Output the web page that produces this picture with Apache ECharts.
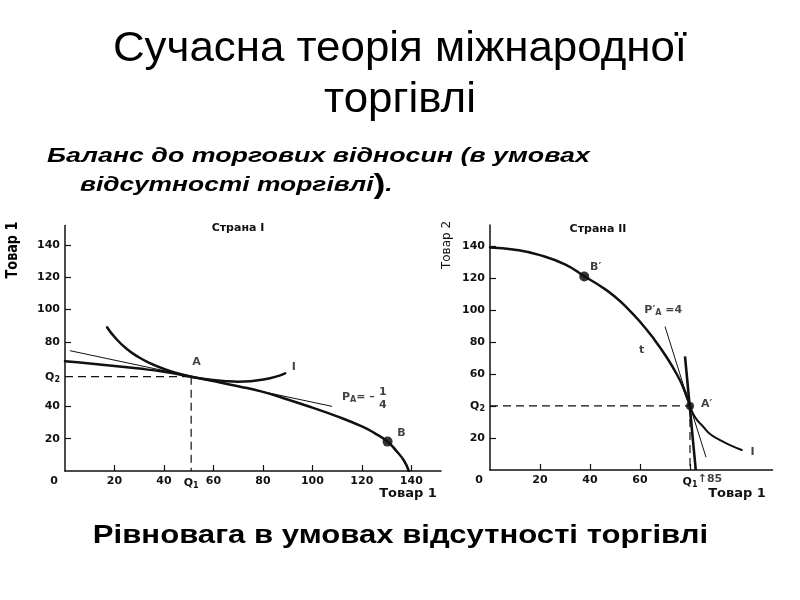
<!DOCTYPE html>
<html><head><meta charset="utf-8">
<script src="https://cdn.jsdelivr.net/npm/echarts@6/dist/echarts.min.js"></script>
<style>html,body{margin:0;padding:0;background:#fff}#c{width:800px;height:600px}</style>
</head><body><div id="c"></div>
<script>
// ---------- Country I (Страна I) ----------
const ppf1 = [[0,68],[10,66.6],[20,65],[30,63.4],[40,61.4],[51,58.4],[60,55.7],[70,52.5],[80,49],[90,44.3],[100,39.2],[110,33.8],[120,27.6],[125,23.6],[130.4,18.2],[134,12.3],[137,6.5],[139,0]];
const indiff1 = [[17,89],[20,83],[25,75.5],[30,70.3],[35,66.3],[40,63.2],[45,60.7],[51,58.4],[55,57.3],[60,56.3],[65,55.6],[70,55.3],[75,55.6],[80,56.6],[85,58.3],[89,60.5]];
const price1 = [[2,74.5],[108,40]];
const pointA = [51,58.4];
const pointB = [130.4,18.2];
const xTicks1 = [20,40,60,80,100,120,140];
const xLabels1 = [0,20,40,51,60,80,100,120,140];
const yTicks1 = [20,40,58.4,80,100,120,140];
const notes1 = [[53.2,67.7,'A'],[136,23.3,'B'],[92.5,64.6,'I'],[128.5,48.6,'1'],[128.5,40.6,'4']];
const priceNote1 = [112,45.8];

// ---------- Country II (Страна II) ----------
const ppf2 = [[0,139],[10,137.6],[20,134.2],[30,128.4],[37.7,121],[45,114],[50,108.2],[55,101],[60,92.6],[65,83],[70,72],[75,59],[78,49],[80,40]];
const ppf2Steep = [[78,71],[82.3,0]];
const indiff2 = [[77,53],[80,40],[82,33],[85.3,27],[88,22.5],[92,18.7],[96,15.5],[100.7,12.5]];
const price2 = [[70,89.6],[86.4,8]];
const pointA2 = [80,40];
const pointB2 = [37.7,120.8];
const xTicks2 = [20,40,60,80];
const xLabels2 = [0,20,40,60,80];
const yTicks2 = [20,40,60,80,100,120,140];
const notes2 = [[42.3,126.4,"B\u2032"],[86.7,41.2,"A\u2032"],[105,11.4,'I'],[60.7,74.6,'t'],[88,-5.6,'\u219185']];
const priceNote2 = [69.3,100];

const F = 'DejaVu Sans';
const lbl = {fontFamily:F, fontWeight:'bold', fontSize:11, color:'#111'};
const sub = {fontFamily:F, fontWeight:'bold', fontSize:8, color:'#111', verticalAlign:'bottom', padding:[6,0,0,0]};

function axisX(gi, max, ticks, labels, fmt){
  return {type:'value', gridIndex:gi, min:0, max:max,
    axisLine:{show:true, onZero:false, lineStyle:{color:'#111', width:1.5}},
    axisTick:{show:true, inside:true, length:6, customValues:ticks, lineStyle:{color:'#111', width:1.2}},
    axisLabel:{show:true, margin:5, customValues:labels, formatter:fmt, hideOverlap:false,
      ...lbl, rich:{z:{...lbl, padding:[0,22,0,0]}, s:sub, q:{...lbl}}},
    splitLine:{show:false}};
}
function axisY(gi, max, ticks, fmt){
  return {type:'value', gridIndex:gi, min:0, max:max,
    axisLine:{show:true, onZero:false, lineStyle:{color:'#111', width:1.5}},
    axisTick:{show:true, inside:true, length:6, customValues:ticks.filter(v=>Number.isInteger(v)), lineStyle:{color:'#111', width:1.2}},
    axisLabel:{show:true, margin:5, customValues:ticks, formatter:fmt,
      ...lbl, rich:{s:sub, q:{...lbl}}},
    splitLine:{show:false}};
}

const fx1 = v => v===0 ? '{z|0}' : (v===51 ? '{q|Q}{s|1}' : String(v));
const fy1 = v => v===58.4 ? '{q|Q}{s|2}' : String(v);
const fx2 = v => v===0 ? '{z|0}' : (v===80 ? '{q|Q}{s|1}' : String(v));
const fy2 = v => v===40 ? '{q|Q}{s|2}' : String(v);

function line(xi, data, width, type){
  return {type:'line', xAxisIndex:xi, yAxisIndex:xi, data:data, symbol:'none', silent:true,
    lineStyle:{color:'#111', width:width, type:type||'solid'}, smooth:false};
}
function curve(xi, data, width){
  return {type:'line', xAxisIndex:xi, yAxisIndex:xi, data:data, symbol:'none', silent:true,
    smooth:0.5, lineStyle:{color:'#111', width:width, cap:'round', join:'round'}};
}
function dots(xi, data, size){
  return {type:'scatter', xAxisIndex:xi, yAxisIndex:xi, data:data, symbolSize:size, silent:true,
    itemStyle:{color:'#000'}};
}
function notes(xi, data){
  return {type:'scatter', xAxisIndex:xi, yAxisIndex:xi, symbolSize:0, silent:true, clip:false,
    data:data.map(d=>({value:[d[0],d[1]], name:d[2]})),
    label:{show:true, position:'inside', formatter:p=>p.name, ...lbl, fontSize:11}};
}

const chart = echarts.init(document.getElementById('c'), null, {renderer:'canvas'});
chart.setOption({
  animation:false,
  backgroundColor:'#fff',
  grid:[
    {left:65, top:225.5, width:376, height:245.5},
    {left:490, top:225, width:282.5, height:245}
  ],
  xAxis:[axisX(0,152,xTicks1,xLabels1,fx1), axisX(1,113,xTicks2,xLabels2,fx2)],
  yAxis:[axisY(0,152,yTicks1,fy1), axisY(1,153,yTicks2,fy2)],
  series:[
    line(0, [[0,pointA[1]],pointA], 1.2, [8,5]),
    line(0, [pointA,[pointA[0],0]], 1.2, [8,5]),
    line(0, price1, 1),
    curve(0, ppf1, 2.5),
    curve(0, indiff1, 2.5),
    dots(0, [pointB], 10),
    notes(0, notes1),
    {type:'scatter', xAxisIndex:0, yAxisIndex:0, symbolSize:0, silent:true, data:[priceNote1],
      label:{show:true, position:'inside', align:'left',
        formatter:'{p|P}{s|A}{p|= \u2013}',
        rich:{p:{...lbl}, s:sub}}},

    line(1, [[0,pointA2[1]],pointA2], 1.2, [8,5]),
    line(1, [pointA2,[pointA2[0],0]], 1.2, [8,5]),
    line(1, price2, 1),
    curve(1, ppf2, 2.5),
    line(1, ppf2Steep, 2.6),
    curve(1, indiff2, 2),
    dots(1, [pointB2], 10),
    dots(1, [pointA2], 8),
    notes(1, notes2),
    {type:'scatter', xAxisIndex:1, yAxisIndex:1, symbolSize:0, silent:true, data:[priceNote2],
      label:{show:true, position:'inside',
        formatter:'{p|P\u2032}{s|A}{p| =4}',
        rich:{p:{...lbl}, s:sub}}}
  ],
  graphic:[
    {type:'text', x:400, y:49.5, scaleX:1.02, style:{text:'Сучасна теорія міжнародної', font:'43px "Liberation Sans"', fill:'#000', textAlign:'center', textVerticalAlign:'middle'}},
    {type:'text', x:400, y:100, scaleX:1.02, style:{text:'торгівлі', font:'43px "Liberation Sans"', fill:'#000', textAlign:'center', textVerticalAlign:'middle'}},
    {type:'text', x:47, y:156.7, scaleX:1.34, style:{text:'Баланс до торгових відносин (в умовах', font:'italic bold 20px "Liberation Sans"', fill:'#000', textAlign:'left', textVerticalAlign:'middle'}},
    {type:'text', x:80, y:185.7, scaleX:1.32, style:{text:'відсутності торгівлі{b|)}.', font:'italic bold 20px "Liberation Sans"', fill:'#000', textAlign:'left', textVerticalAlign:'middle',
      rich:{b:{font:'bold 27px "Liberation Sans"', fill:'#000'}}}},
    {type:'text', x:400.5, y:535.6, scaleX:1.215, style:{text:'Рівновага в умовах відсутності торгівлі', font:'bold 25.6px "Liberation Sans"', fill:'#000', textAlign:'center', textVerticalAlign:'middle'}},
    {type:'text', x:238, y:228, style:{text:'Страна I', font:'bold 11px "DejaVu Sans"', fill:'#111', textAlign:'center', textVerticalAlign:'middle'}},
    {type:'text', x:598, y:229, style:{text:'Страна II', font:'bold 11px "DejaVu Sans"', fill:'#111', textAlign:'center', textVerticalAlign:'middle'}},
    {type:'text', x:408, y:494, style:{text:'Товар 1', font:'bold 13px "DejaVu Sans"', fill:'#111', textAlign:'center', textVerticalAlign:'middle'}},
    {type:'text', x:737, y:494, style:{text:'Товар 1', font:'bold 13px "DejaVu Sans"', fill:'#111', textAlign:'center', textVerticalAlign:'middle'}},
    {type:'text', x:13, y:250, rotation:Math.PI/2, scaleX:0.8, style:{text:'Товар 1', font:'bold 16px "DejaVu Sans"', fill:'#000', textAlign:'center', textVerticalAlign:'middle'}},
    {type:'text', x:447, y:245, rotation:Math.PI/2, style:{text:'Товар 2', font:'12px "DejaVu Sans"', fill:'#111', textAlign:'center', textVerticalAlign:'middle'}}
  ]
});
</script></body></html>
